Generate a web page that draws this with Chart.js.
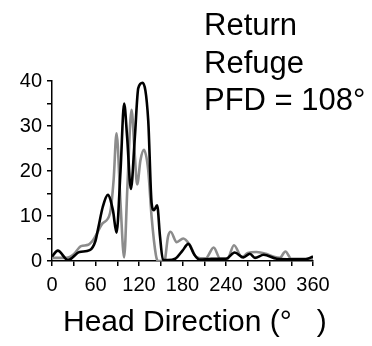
<!DOCTYPE html>
<html>
<head>
<meta charset="utf-8">
<script src="https://cdn.jsdelivr.net/npm/chart.js@4/dist/chart.umd.min.js"></script>
<style>
  body { margin: 0; background: #fff; }
  #wrap { width: 372px; height: 346px; position: relative; }
</style>
</head>
<body>
<div id="wrap"><canvas id="myChart"></canvas></div>
<script>
// head direction (deg) and firing rate (Hz), return trip
var returnDeg = [0, 8, 22, 38, 52, 60, 64, 70, 77, 84, 89, 94.5, 99.5, 103.6, 108.8, 114.3, 119, 125, 132.7, 137.4, 140.5, 145, 149, 153, 160, 170, 180, 188, 196, 204, 220, 240, 252, 264, 273, 280, 292, 310, 330, 350, 360];
var returnRate = [1.0, 2.3, 0.2, 2.0, 2.4, 4.5, 7.5, 12, 14.7, 11.3, 6.3, 20, 35, 27.6, 16, 27.6, 38.4, 39.6, 31.3, 12.8, 11.3, 12.4, 5.4, 0.3, 0.2, 0.5, 2.3, 3.8, 1.5, 0.3, 0.5, 0.5, 1.9, 0.8, 1.6, 0.7, 1.4, 0.5, 0.4, 0.4, 1.0];

// refuge
var refugeDeg = [0, 20, 30, 40, 50, 57, 70, 80, 85, 89, 94.5, 99.5, 104, 109.7, 114, 117.5, 122, 126.7, 132.7, 137.4, 143.3, 146, 155, 160, 163.6, 172, 181, 190, 199.5, 212, 223, 232, 242, 251, 262, 270, 282, 295, 305, 314, 322, 330, 360];
var refugeRate = [0.7, 0.7, 1.5, 3.3, 3.6, 4.7, 8.4, 10.6, 18, 28.4, 12.8, 0.8, 16.5, 33.6, 24, 17, 22.4, 24.7, 20.2, 9.8, 1.3, 0, 0, 5.4, 6.5, 4.2, 5, 3.6, 0.8, 0.6, 3.0, 0.5, 0.5, 3.5, 0.8, 1.8, 2.0, 1.6, 1.0, 0.7, 2.1, 0.5, 0.5];

var titleLines = ['Return', 'Refuge', 'PFD = 108\u00b0'];
var xTitle = 'Head Direction (\u00b0   )';

var FONT = '"Liberation Sans", Arial, sans-serif';

function toPoints(xs, ys) {
  return xs.map(function (x, i) { return { x: x, y: ys[i] }; });
}

// free text: the label block top right and the axis caption
var textPlugin = {
  id: 'freeText',
  afterDraw: function (chart) {
    var ctx = chart.ctx;
    ctx.save();
    ctx.fillStyle = '#000';
    ctx.textAlign = 'left';
    ctx.textBaseline = 'alphabetic';
    ctx.font = '31px ' + FONT;
    titleLines.forEach(function (line, i) {
      ctx.fillText(line, 204, 35 + i * 37.5);
    });
    ctx.font = '30px ' + FONT;
    ctx.fillText(xTitle, 63, 331);
    ctx.restore();
  }
};

window.onload = function () {
  const ctx = document.getElementById('myChart');
  const myChart = new Chart(ctx, {
    type: 'line',
    data: {
      datasets: [{
        label: 'Return',
        data: toPoints(returnDeg, returnRate),
        borderColor: '#000000',
        borderWidth: 2.6,
        pointRadius: 0,
        cubicInterpolationMode: 'monotone'
      }, {
        label: 'Refuge',
        data: toPoints(refugeDeg, refugeRate),
        borderColor: '#8c8c8c',
        borderWidth: 2.6,
        pointRadius: 0,
        cubicInterpolationMode: 'monotone'
      }]
    },
    options: {
      responsive: true,
      maintainAspectRatio: false,
      animation: false,
      layout: { padding: { left: 0, right: 59, top: 81, bottom: 0 } },
      plugins: {
        legend: { display: false },
        tooltip: { enabled: false }
      },
      scales: {
        x: {
          type: 'linear',
          min: 0,
          max: 360,
          afterFit: function (scale) { scale.height = 85; },
          border: { display: true, color: '#000', width: 1.5 },
          grid: { display: true, drawOnChartArea: false, drawTicks: true, tickLength: 5, color: '#000', lineWidth: 1.5 },
          ticks: {
            stepSize: 30,
            autoSkip: false,
            maxRotation: 0,
            padding: 7,
            color: '#000',
            font: { family: FONT, size: 20 },
            callback: function (v) { return v % 60 === 0 ? String(v) : ''; }
          }
        },
        y: {
          min: 0,
          max: 40,
          afterFit: function (scale) { scale.width = 52; },
          border: { display: true, color: '#000', width: 1.5 },
          grid: { display: true, drawOnChartArea: false, drawTicks: true, tickLength: 5, color: '#000', lineWidth: 1.5 },
          ticks: {
            stepSize: 5,
            autoSkip: false,
            padding: 5,
            color: '#000',
            font: { family: FONT, size: 20 },
            callback: function (v) { return v % 10 === 0 ? String(v) : ''; }
          }
        }
      }
    },
    plugins: [textPlugin]
  });
}
</script>
</body>
</html>
